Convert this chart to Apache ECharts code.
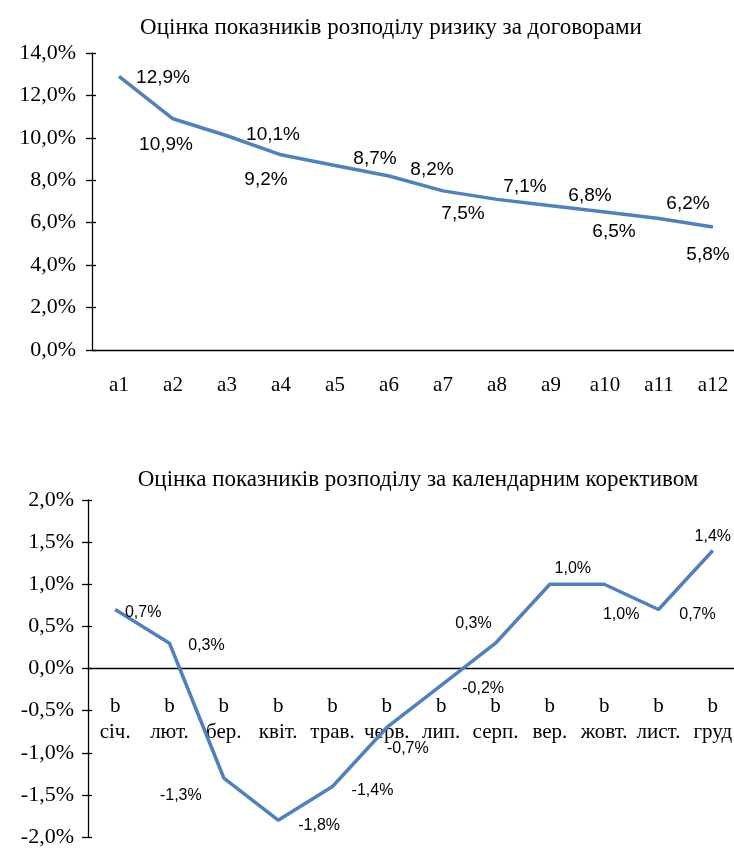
<!DOCTYPE html>
<html>
<head>
<meta charset="utf-8">
<script src="https://cdn.jsdelivr.net/npm/echarts@6/dist/echarts.min.js"></script>
<style>
html,body{margin:0;padding:0;background:#fff;}
#c{width:734px;height:848px;}
</style>
</head>
<body>
<div id="c"></div>
<script>
// ---- data ----
const title1 = 'Оцінка показників розподілу ризику за договорами';
const title2 = 'Оцінка показників розподілу за календарним корективом';
const cats1 = ['a1','a2','a3','a4','a5','a6','a7','a8','a9','a10','a11','a12'];
const vals1 = [12.9, 10.9, 10.1, 9.2, 8.7, 8.2, 7.5, 7.1, 6.8, 6.5, 6.2, 5.8];
const cats2 = ['b\nсіч.','b\nлют.','b\nбер.','b\nквіт.','b\nтрав.','b\nчерв.','b\nлип.','b\nсерп.','b\nвер.','b\nжовт.','b\nлист.','b\nгруд'];
const vals2 = [0.7, 0.3, -1.3, -1.8, -1.4, -0.7, -0.2, 0.3, 1.0, 1.0, 0.7, 1.4];

// ---- label placement (style only) ----
const off1 = [[44,1],[-7,26],[46,-1],[-15,25],[40,-7],[43,-6],[20,23],[28,-13],[39,-10],[9,20],[29,-15],[-5,28]];
const off2 = [[28,3],[37,2],[-43,18],[41,5],[40,4],[21,21],[42,3],[-22,-20],[23,-16],[17,30],[39,5],[0,-14]];

const fmt = v => v.toFixed(1).replace('.', ',') + '%';
const serif = 'Liberation Serif';
const sans = 'Liberation Sans';
const blue = '#4F81BD';

function mkData(vals, offs) {
  return vals.map((v, i) => ({
    value: v,
    label: { offset: offs[i] }
  }));
}

const tickStyle = { color: '#000', width: 1.3 };
const g2Top = 500, g2H = 337;
const zeroOff = -g2H / 2; // place the category axis of chart 2 on the zero line

const chart = echarts.init(document.getElementById('c'), null, {renderer: 'canvas'});
chart.setOption({
  animation: false,
  backgroundColor: '#fff',
  title: [
    { text: title1, left: 386, top: 11, textAlign: 'center',
      textStyle: { fontFamily: serif, fontSize: 23, fontWeight: 'normal', color: '#000' } },
    { text: title2, left: 413, top: 463, textAlign: 'center',
      textStyle: { fontFamily: serif, fontSize: 23, fontWeight: 'normal', color: '#000' } }
  ],
  grid: [
    { left: 92, right: -6, top: 53, height: 297, outerBoundsMode: 'none', containLabel: false },
    { left: 88, right: -6, top: g2Top, height: g2H, outerBoundsMode: 'none', containLabel: false }
  ],
  xAxis: [
    { type: 'category', gridIndex: 0, data: cats1, boundaryGap: true,
      axisLine: { lineStyle: tickStyle },
      axisTick: { alignWithLabel: true, length: 5, lineStyle: tickStyle },
      axisLabel: { interval: 0, fontFamily: serif, fontSize: 21, color: '#000', margin: 25, lineHeight: 20 } },
    { type: 'category', gridIndex: 0, data: cats1, boundaryGap: true, position: 'bottom',
      axisLine: { show: false },
      axisTick: { inside: true, alignWithLabel: true, length: 5, lineStyle: tickStyle },
      axisLabel: { show: false } },
    { type: 'category', gridIndex: 1, data: cats2, boundaryGap: true, position: 'bottom', offset: zeroOff,
      axisLine: { onZero: false, lineStyle: tickStyle },
      axisTick: { alignWithLabel: true, length: 5, lineStyle: tickStyle },
      axisLabel: { interval: 0, fontFamily: serif, fontSize: 21, color: '#000', margin: 25, lineHeight: 26 } },
    { type: 'category', gridIndex: 1, data: cats2, boundaryGap: true, position: 'bottom', offset: zeroOff,
      axisLine: { show: false, onZero: false },
      axisTick: { inside: true, alignWithLabel: true, length: 5, lineStyle: tickStyle },
      axisLabel: { show: false } }
  ],
  yAxis: [
    { type: 'value', gridIndex: 0, min: 0, max: 14, interval: 2,
      axisLine: { show: true, lineStyle: tickStyle },
      axisTick: { show: true, length: 6, lineStyle: tickStyle },
      splitLine: { show: false },
      axisLabel: { fontFamily: serif, fontSize: 22, color: '#000', margin: 16, formatter: fmt } },
    { type: 'value', gridIndex: 0, min: 0, max: 14, interval: 2, position: 'left',
      axisLine: { show: false },
      axisTick: { show: true, inside: true, length: 4, lineStyle: tickStyle },
      splitLine: { show: false }, axisLabel: { show: false } },
    { type: 'value', gridIndex: 1, min: -2, max: 2, interval: 0.5,
      axisLine: { show: true, onZero: false, lineStyle: tickStyle },
      axisTick: { show: true, length: 6, lineStyle: tickStyle },
      splitLine: { show: false },
      axisLabel: { fontFamily: serif, fontSize: 22, color: '#000', margin: 14, formatter: fmt } },
    { type: 'value', gridIndex: 1, min: -2, max: 2, interval: 0.5, position: 'left',
      axisLine: { show: false, onZero: false },
      axisTick: { show: true, inside: true, length: 4, lineStyle: tickStyle },
      splitLine: { show: false }, axisLabel: { show: false } }
  ],
  series: [
    { type: 'line', xAxisIndex: 0, yAxisIndex: 0, data: mkData(vals1, off1),
      symbol: 'circle', symbolSize: 1, showSymbol: true,
      itemStyle: { color: 'rgba(0,0,0,0)' },
      lineStyle: { color: blue, width: 3.5 },
      label: { show: true, position: 'inside', formatter: p => fmt(p.value),
        fontFamily: sans, fontSize: 19, color: '#000' } },
    { type: 'line', xAxisIndex: 2, yAxisIndex: 2, data: mkData(vals2, off2),
      symbol: 'circle', symbolSize: 1, showSymbol: true,
      itemStyle: { color: 'rgba(0,0,0,0)' },
      lineStyle: { color: blue, width: 3.5 },
      label: { show: true, position: 'inside', formatter: p => fmt(p.value),
        fontFamily: sans, fontSize: 16, color: '#000' } }
  ]
});
</script>
</body>
</html>
